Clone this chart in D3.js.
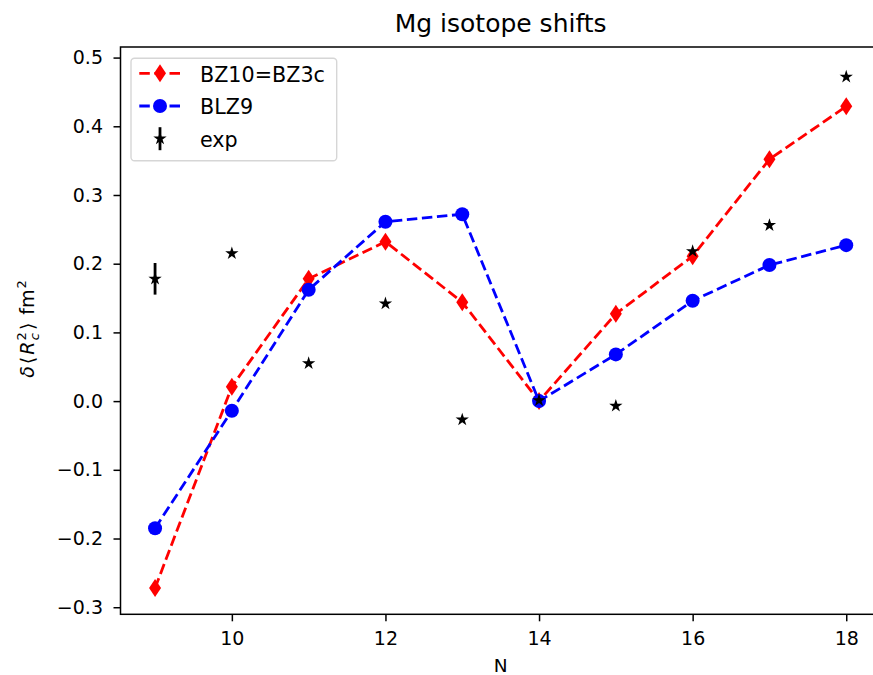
<!DOCTYPE html>
<html>
<head>
<meta charset="utf-8">
<script src="https://cdn.jsdelivr.net/npm/d3@7"></script>
<style>
  body { margin: 0; background: #fff; }
  text { font-family: "DejaVu Sans", sans-serif; }
</style>
</head>
<body>
<div id="chart"></div>
<script>
// data
var neutrons = [9, 10, 11, 12, 13, 14, 15, 16, 17, 18];
var bz10 = [-0.272, 0.021, 0.178, 0.232, 0.144, 0.0, 0.127, 0.211, 0.352, 0.429];
var blz9 = [-0.185, -0.014, 0.162, 0.261, 0.272, 0.0, 0.068, 0.146, 0.198, 0.227];
var expVal = [0.178, 0.215, 0.055, 0.142, -0.027, 0.001, -0.007, 0.218, 0.256, 0.472];
var expErr = [0.023, 0.003, 0.003, 0.003, 0.003, 0.003, 0.003, 0.003, 0.003, 0.003];
var xTicks = [10, 12, 14, 16, 18];
var yTicks = [-0.3, -0.2, -0.1, 0.0, 0.1, 0.2, 0.3, 0.4, 0.5];

// set the dimensions and margins of the graph
var margin = {top: 47, right: 0, bottom: 60.7, left: 120.5},
    width = 760.3,
    height = 567.3;

var svgRoot = d3.select("#chart")
  .append("svg")
    .attr("width", 873)
    .attr("height", 675);

var svg = svgRoot.append("g")
    .attr("transform", `translate(${margin.left}, ${margin.top})`);

const x = d3.scaleLinear()
  .domain([8.55, 18.45])
  .range([0, width]);

const y = d3.scaleLinear()
  .domain([-0.3103, 0.5154])
  .range([height, 0]);

// axes
var xAxis = svg.append("g")
  .attr("transform", `translate(0, ${height})`)
  .call(d3.axisBottom(x).tickValues(xTicks).tickSize(7).tickPadding(10.5).tickFormat(d3.format("d")));
var yAxis = svg.append("g")
  .call(d3.axisLeft(y).tickValues(yTicks).tickSize(7).tickPadding(10.5).tickFormat(d3.format(".1f")));

[xAxis, yAxis].forEach(function(a) {
  a.select(".domain").remove();
  a.selectAll(".tick line").attr("stroke", "#000").attr("stroke-width", 1.5);
  a.selectAll(".tick text")
    .attr("fill", "#000")
    .style("font-size", "19px")
    .style("font-family", "'DejaVu Sans', sans-serif");
});

// frame
svg.append("rect")
  .attr("x", 0).attr("y", 0)
  .attr("width", width).attr("height", height)
  .attr("fill", "none")
  .attr("stroke", "#000")
  .attr("stroke-width", 1.5);

// marker shapes
function starPath(r) {
  var pts = [];
  for (var i = 0; i < 10; i++) {
    var a = -Math.PI / 2 + i * Math.PI / 5;
    var rr = i % 2 ? r * 0.382 : r;
    pts.push([rr * Math.cos(a), rr * Math.sin(a)]);
  }
  return "M" + pts.map(p => p[0].toFixed(2) + "," + p[1].toFixed(2)).join("L") + "Z";
}
var diamond = "M0,-9L6,0L0,9L-6,0Z";
var star = starPath(7);
var dash = "10.5,4.6";

var line = d3.line().x(d => x(d[0])).y(d => y(d[1]));

// BZ10=BZ3c
svg.append("path")
  .datum(neutrons.map((n, i) => [n, bz10[i]]))
  .attr("d", line)
  .attr("fill", "none")
  .attr("stroke", "#ff0000")
  .attr("stroke-width", 2.8)
  .attr("stroke-dasharray", dash);
svg.selectAll("redpts")
  .data(neutrons)
  .join("path")
    .attr("d", diamond)
    .attr("transform", (d, i) => `translate(${x(d)}, ${y(bz10[i])})`)
    .attr("fill", "#ff0000");

// BLZ9
svg.append("path")
  .datum(neutrons.map((n, i) => [n, blz9[i]]))
  .attr("d", line)
  .attr("fill", "none")
  .attr("stroke", "#0000ff")
  .attr("stroke-width", 2.8)
  .attr("stroke-dasharray", dash);
svg.selectAll("bluepts")
  .data(neutrons)
  .join("circle")
    .attr("cx", d => x(d))
    .attr("cy", (d, i) => y(blz9[i]))
    .attr("r", 7)
    .attr("fill", "#0000ff");

// exp with error bars
svg.selectAll("errbars")
  .data(neutrons)
  .join("line")
    .attr("x1", d => x(d))
    .attr("x2", d => x(d))
    .attr("y1", (d, i) => y(expVal[i] - expErr[i]))
    .attr("y2", (d, i) => y(expVal[i] + expErr[i]))
    .attr("stroke", "#000")
    .attr("stroke-width", 2.8);
svg.selectAll("exppts")
  .data(neutrons)
  .join("path")
    .attr("d", star)
    .attr("transform", (d, i) => `translate(${x(d)}, ${y(expVal[i])})`)
    .attr("fill", "#000");

// title and axis labels
svgRoot.append("text")
  .attr("x", margin.left + width / 2)
  .attr("y", 32.3)
  .attr("text-anchor", "middle")
  .style("font-size", "25px")
  .text("Mg isotope shifts");

svgRoot.append("text")
  .attr("x", margin.left + width / 2)
  .attr("y", 672)
  .attr("text-anchor", "middle")
  .style("font-size", "18.5px")
  .text("N");

var ylab = svgRoot.append("text")
  .attr("transform", `translate(33.5, 329) rotate(-90)`)
  .attr("text-anchor", "middle")
  .style("font-size", "19px");
ylab.append("tspan").style("font-style", "italic").text("δ");
ylab.append("tspan").attr("dx", 2).text("⟨");
ylab.append("tspan").attr("dx", 2).style("font-style", "italic").text("R");
ylab.append("tspan").attr("dx", 1).attr("dy", -8).style("font-size", "13px").text("2");
ylab.append("tspan").attr("dx", -8).attr("dy", 13).style("font-size", "13px").style("font-style", "italic").text("c");
ylab.append("tspan").attr("dx", 3).attr("dy", -5).text("⟩");
ylab.append("tspan").attr("dx", 8).text("fm");
ylab.append("tspan").attr("dx", 1).attr("dy", -8).style("font-size", "13px").text("2");

// legend
var leg = svgRoot.append("g").attr("transform", "translate(131, 58.3)");
leg.append("rect")
  .attr("width", 205.7).attr("height", 102.4)
  .attr("rx", 3.5)
  .attr("fill", "#fff").attr("fill-opacity", 0.8)
  .attr("stroke", "#d6d6d6").attr("stroke-width", 1.4);

var legItems = [
  {label: "BZ10=BZ3c", color: "#ff0000", kind: "diamond"},
  {label: "BLZ9", color: "#0000ff", kind: "circle"},
  {label: "exp", color: "#000", kind: "star"}
];
legItems.forEach(function(it, i) {
  var row = leg.append("g").attr("transform", `translate(0, ${15 + i * 32.7})`);
  if (it.kind !== "star") {
    row.append("line")
      .attr("x1", 8.3).attr("x2", 49.7)
      .attr("stroke", it.color).attr("stroke-width", 2.8)
      .attr("stroke-dasharray", dash);
  } else {
    row.append("line")
      .attr("x1", 29).attr("x2", 29).attr("y1", -11.5).attr("y2", 11.5)
      .attr("stroke", "#000").attr("stroke-width", 2.8);
  }
  if (it.kind === "diamond") {
    row.append("path").attr("d", diamond).attr("transform", "translate(29,0)").attr("fill", it.color);
  } else if (it.kind === "circle") {
    row.append("circle").attr("cx", 29).attr("r", 7).attr("fill", it.color);
  } else {
    row.append("path").attr("d", star).attr("transform", "translate(29,0)").attr("fill", it.color);
  }
  row.append("text")
    .attr("x", 69)
    .attr("y", 8.4)
    .style("font-size", "20.7px")
    .text(it.label);
});
</script>
</body>
</html>
